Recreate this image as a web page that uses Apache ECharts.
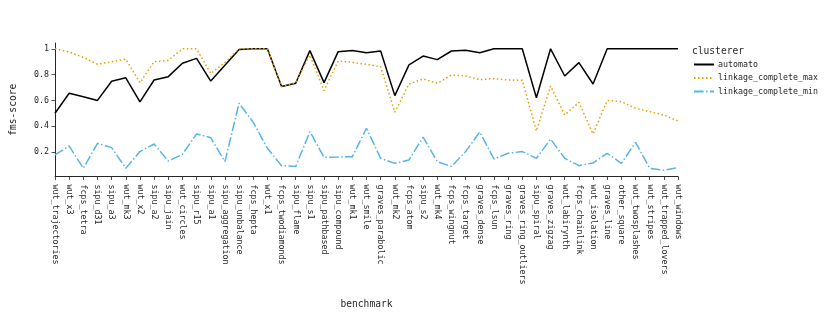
<!DOCTYPE html>
<html>
<head>
<meta charset="utf-8">
<script src="https://cdn.jsdelivr.net/npm/echarts@6/dist/echarts.min.js"></script>
<style>html,body{margin:0;padding:0;background:#fff}#c{width:830px;height:312px}</style>
</head>
<body>
<div id="c"></div>
<script>
const categories = ["wut_trajectories","wut_x3","fcps_tetra","sipu_d31","sipu_a3","wut_mk3","wut_x2","sipu_a2","sipu_jain","wut_circles","sipu_r15","sipu_a1","sipu_aggregation","sipu_unbalance","fcps_hepta","wut_x1","fcps_twodiamonds","sipu_flame","sipu_s1","sipu_pathbased","sipu_compound","wut_mk1","wut_smile","graves_parabolic","wut_mk2","fcps_atom","sipu_s2","wut_mk4","fcps_wingnut","fcps_target","graves_dense","fcps_lsun","graves_ring","graves_ring_outliers","sipu_spiral","graves_zigzag","wut_labirynth","fcps_chainlink","wut_isolation","graves_line","other_square","wut_twosplashes","wut_stripes","wut_trapped_lovers","wut_windows"];
const automato = [0.50,0.655,0.628,0.600,0.748,0.775,0.588,0.758,0.784,0.888,0.926,0.750,0.873,0.995,1.0,1.0,0.707,0.733,0.986,0.738,0.978,0.986,0.970,0.983,0.637,0.875,0.944,0.916,0.983,0.988,0.970,1.0,1.0,1.0,0.621,1.0,0.789,0.893,0.727,1.0,1.0,1.0,1.0,1.0,1.0];
const linkageMax = [1.0,0.975,0.934,0.880,0.900,0.920,0.737,0.900,0.910,1.0,1.0,0.808,0.895,1.0,1.0,1.0,0.707,0.738,0.952,0.676,0.906,0.895,0.880,0.862,0.508,0.727,0.766,0.733,0.797,0.790,0.761,0.769,0.758,0.756,0.363,0.712,0.487,0.585,0.340,0.600,0.590,0.539,0.513,0.487,0.440];
const linkageMin = [0.177,0.247,0.074,0.267,0.234,0.074,0.203,0.262,0.130,0.182,0.340,0.311,0.125,0.578,0.430,0.229,0.094,0.087,0.358,0.159,0.161,0.164,0.384,0.151,0.112,0.138,0.316,0.125,0.087,0.203,0.355,0.146,0.190,0.203,0.151,0.300,0.151,0.094,0.115,0.190,0.112,0.275,0.074,0.058,0.079];
const yTicks = [0.2,0.4,0.6,0.8,1.0];
const seriesNames = ["automato","linkage_complete_max","linkage_complete_min"];

const mono = "DejaVu Sans Mono";
const ink = "#262626";
const chart = echarts.init(document.getElementById('c'), null, {renderer:'canvas'});
chart.setOption({
  animation:false,
  backgroundColor:'#fff',
  title:{text:'clusterer', left:692, top:46.5, padding:0, textStyle:{fontFamily:mono,fontSize:9.6,fontWeight:'normal',color:ink}},
  legend:{orient:'vertical', left:693, top:59.5, padding:0, itemWidth:20, itemHeight:10, itemGap:3.5,
    itemStyle:{opacity:0, borderWidth:0},
    textStyle:{fontFamily:mono,fontSize:8.3,color:ink,padding:[0,0,0,-1],lineHeight:10}, data:seriesNames},
  grid:{left:55, right:152, top:43, bottom:135.5},
  xAxis:{type:'category', data:categories, boundaryGap:false,
    name:'benchmark', nameLocation:'middle', nameGap:123,
    nameTextStyle:{fontFamily:mono,fontSize:9.6,color:ink},
    axisLine:{lineStyle:{color:ink,width:1}},
    axisTick:{show:true,length:3.5,lineStyle:{color:ink,width:0.8},alignWithLabel:true},
    axisLabel:{rotate:-90, interval:0, margin:8, fontFamily:mono, fontSize:8.3, color:ink}},
  yAxis:{type:'value', min:0.01, max:1.045,
    name:'fms-score', nameLocation:'middle', nameGap:37, nameRotate:90,
    nameTextStyle:{fontFamily:mono,fontSize:9.6,color:ink},
    splitLine:{show:false},
    axisLine:{show:true,lineStyle:{color:ink,width:1}},
    axisTick:{show:true,length:3.5,lineStyle:{color:ink,width:0.8},customValues:yTicks},
    axisLabel:{margin:6, fontFamily:mono, fontSize:8.3, color:ink, customValues:yTicks,
      formatter:v=>(Math.abs(v-1)<1e-9?'1':v.toFixed(1))}},
  series:[
    {name:seriesNames[0], type:'line', data:automato, symbol:'none', color:'#000000',
      lineStyle:{width:1.5,color:'#000000',type:'solid'}},
    {name:seriesNames[1], type:'line', data:linkageMax, symbol:'none', color:'#E69F00',
      lineStyle:{width:1.5,color:'#E69F00',type:[1.5,2.5]}},
    {name:seriesNames[2], type:'line', data:linkageMin, symbol:'none', color:'#56B4E9',
      lineStyle:{width:1.5,color:'#56B4E9',type:[9.6,2.4,1.5,2.4]}}
  ]
});
</script>
</body>
</html>
